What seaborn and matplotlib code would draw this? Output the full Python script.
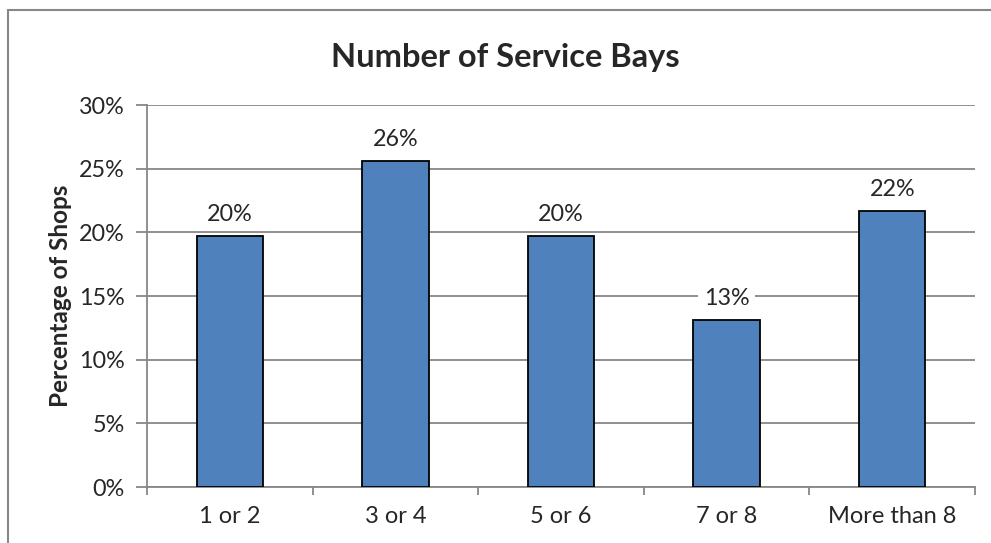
import matplotlib
matplotlib.use("Agg")
import matplotlib.pyplot as plt
import seaborn as sns
import pandas as pd
from matplotlib.patches import Rectangle
from matplotlib.ticker import PercentFormatter, FixedLocator

# Data
categories = ["1 or 2", "3 or 4", "5 or 6", "7 or 8", "More than 8"]
shares = [19.7, 25.6, 19.7, 13.1, 21.7]
bar_labels = ["20%", "26%", "20%", "13%", "22%"]

sns.set_theme(style="white")
plt.rcParams["font.family"] = ["Lato", "DejaVu Sans"]

df = pd.DataFrame({"bays": categories, "pct": shares})

W, H = 991, 543
fig = plt.figure(figsize=(W / 100, H / 100), dpi=100)
ax = fig.add_axes([147 / W, 1 - 487 / H, (975 - 147) / W, (487 - 105) / H])

sns.barplot(data=df, x="bays", y="pct", color="#4F81BD", saturation=1,
            width=0.40, edgecolor="black", linewidth=1.3, ax=ax, zorder=3)

ax.set_ylim(0, 30)
ax.set_xlim(-0.5, len(categories) - 0.5)
ax.yaxis.set_major_locator(FixedLocator([0, 5, 10, 15, 20, 25, 30]))
ax.yaxis.set_major_formatter(PercentFormatter(decimals=0))
ax.grid(axis="y", color="#878787", linewidth=1.3, zorder=0)
ax.set_axisbelow(True)

for side in ["top", "right"]:
    ax.spines[side].set_visible(False)
for side in ["left", "bottom"]:
    ax.spines[side].set_color("#878787")
    ax.spines[side].set_linewidth(1.3)

# boundary ticks on the category axis
ax.set_xticks(range(len(categories)))
ax.set_xticklabels(categories)
ax.set_xticks([i - 0.5 for i in range(len(categories) + 1)], minor=True)
ax.tick_params(axis="x", which="major", length=0, pad=14, labelsize=17)
ax.tick_params(axis="x", which="minor", bottom=True, length=6, width=1.3,
               color="#878787", direction="out")
ax.tick_params(axis="y", left=True, length=8, width=1.3, color="#878787",
               direction="out", pad=8, labelsize=16.8)

ax.set_xlabel("")
ax.set_ylabel("Percentage of Shops", fontsize=17.5, fontweight="bold", labelpad=5)

ax.bar_label(ax.containers[0], labels=bar_labels, padding=8, fontsize=16.8,
             bbox=dict(facecolor="white", edgecolor="none", pad=4), zorder=4)

fig.text(505 / W, 1 - 57 / H, "Number of Service Bays", ha="center", va="center",
         fontsize=23.5, fontweight="bold")

# chart area border (clipped at right/bottom as in the reference)
fig.patches.append(Rectangle((8 / W, -0.05), 1.1, 1 - 10 / H + 0.05,
                             transform=fig.transFigure, fill=False,
                             edgecolor="#878787", linewidth=1.5))

fig.savefig("out.png", dpi=100)
